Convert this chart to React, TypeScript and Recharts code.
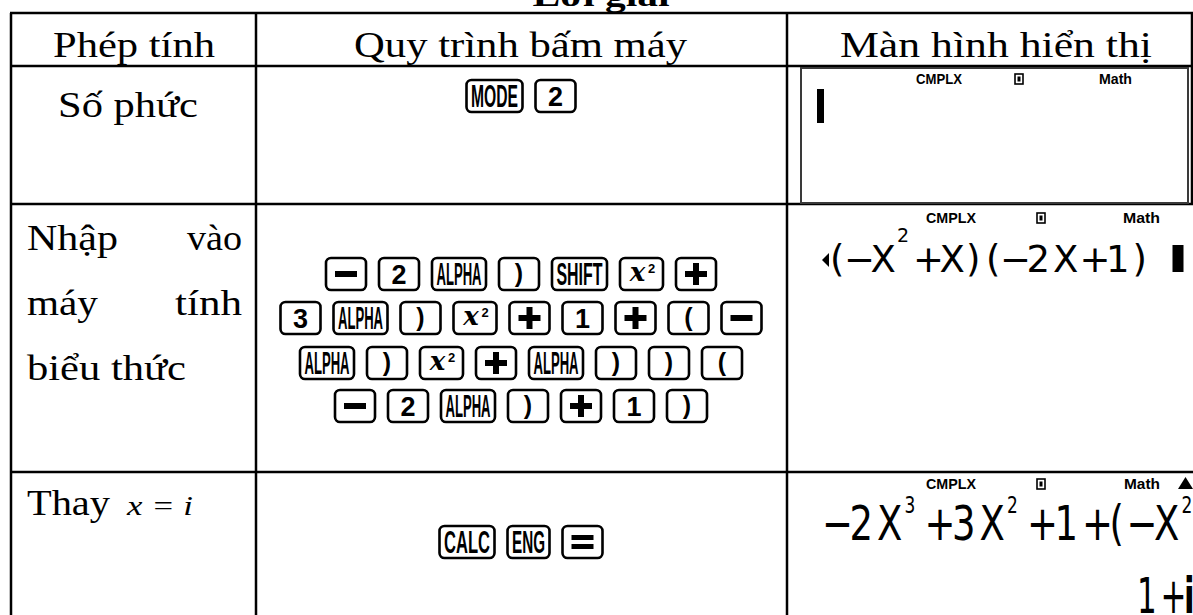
import React from "react";
import { ScatterChart, Scatter, XAxis, YAxis, Customized } from "recharts";

// ── content ──
const title = "Lời giải";
const headers = ["Phép tính", "Quy trình bấm máy", "Màn hình hiển thị"];
const firstLabel = "Số phức";
const secondLabelLines = [["Nhập", "vào"], ["máy", "tính"], ["biểu thức"]];
const thirdLabel = "Thay";
const thirdMath = "x = i";

const keysMode = ["MODE", "2"];
const keysInput = [
  ["−", "2", "ALPHA", ")", "SHIFT", "x²", "+"],
  ["3", "ALPHA", ")", "x²", "+", "1", "+", "(", "−"],
  ["ALPHA", ")", "x²", "+", "ALPHA", ")", ")", "("],
  ["−", "2", "ALPHA", ")", "+", "1", ")"],
];
const keysCalc = ["CALC", "ENG", "="];

const statusWords = ["CMPLX", "Math"];
const screenInput = ["◀", "(", "−", "X", "^2", "+", "X", ")", "(", "−", "2", "X", "+", "1", ")", " ", "▌"];
const screenCalcTop = ["−", "2", "X", "^3", "+", "3", "X", "^2", "+", "1", "+", "(", "−", "X", "^2", "+"];
const screenCalcResult = ["1", "+", "i"];

// ── layout ──
const W = 1193;
const H = 615;
const COLS = [11, 256, 787, 1192];
const ROWS = [13, 66, 204, 472];
const KEY_H = 32;
const KEY_GAP = 13;
const KEY_CX = 521;
const SERIF = "'Liberation Serif', 'Times New Roman', serif";
const SANS = "'Liberation Sans', Arial, sans-serif";
const CALC = "'DejaVu Sans', sans-serif";

function keyWidth(label: string) {
  switch (label) {
    case "MODE": return 56;
    case "ALPHA": return 54;
    case "SHIFT": return 55;
    case "CALC": return 55;
    case "ENG": return 42;
    case "x²": return 43;
    default: return 40;
  }
}

function buildRow(keys: string[], cy: number) {
  const widths = keys.map(keyWidth);
  const total = widths.reduce((a, b) => a + b, 0) + KEY_GAP * (keys.length - 1);
  let x = KEY_CX - total / 2;
  return keys.map((label, i) => {
    const cx = x + widths[i] / 2;
    x += widths[i] + KEY_GAP;
    return { x: cx, y: cy, label, w: widths[i] };
  });
}

const keyData = [
  ...buildRow(keysMode, 96),
  ...keysInput.flatMap((row, i) => buildRow(row, [274, 318, 363, 406][i])),
  ...buildRow(keysCalc, 542),
];

function KeyShape(props: any) {
  const { cx, cy, payload } = props;
  const { label, w } = payload;
  const x0 = cx - w / 2;
  const y0 = cy - KEY_H / 2;
  let inner: React.ReactNode = null;
  if (/^[A-Z]{3,}$/.test(label)) {
    inner = (
      <text x={cx} y={cy + 11} textAnchor="middle" fontFamily={SANS} fontWeight={700}
        fontSize={31} textLength={w - 9} lengthAdjust="spacingAndGlyphs">{label}</text>
    );
  } else if (/^[0-9]$/.test(label)) {
    inner = (
      <text x={cx} y={cy + 9.5} textAnchor="middle" fontFamily={SANS} fontWeight={700} fontSize={27}>{label}</text>
    );
  } else if (label === "−") {
    inner = <rect x={cx - 11} y={cy - 3} width={22} height={6} fill="#000" />;
  } else if (label === "+") {
    inner = (
      <g fill="#000">
        <rect x={cx - 11} y={cy - 3} width={22} height={6} />
        <rect x={cx - 3} y={cy - 11} width={6} height={22} />
      </g>
    );
  } else if (label === "=") {
    inner = (
      <g fill="#000">
        <rect x={cx - 11} y={cy - 7} width={22} height={5} />
        <rect x={cx - 11} y={cy + 2} width={22} height={5} />
      </g>
    );
  } else if (label === "x²") {
    inner = (
      <g>
        <text x={cx - 4} y={cy + 7} textAnchor="middle" fontFamily="'DejaVu Serif', serif"
          fontStyle="italic" fontWeight={700} fontSize={26}>x</text>
        <text x={cx + 10} y={cy - 1} textAnchor="middle" fontFamily={SANS} fontWeight={700} fontSize={13}>2</text>
      </g>
    );
  } else {
    inner = (
      <text x={cx} y={cy + 8} textAnchor="middle" fontFamily={SANS} fontWeight={700} fontSize={25}>{label}</text>
    );
  }
  return (
    <g>
      <rect x={x0} y={y0} width={w} height={KEY_H} rx={5} fill="#fff" stroke="#000" strokeWidth={2.6} />
      {inner}
    </g>
  );
}

function SerifText({ x, y, w, anchor = "start", size = 35, italic = false, bold = false, children }: any) {
  return (
    <text x={x} y={y} textAnchor={anchor} fontFamily={SERIF} fontSize={size}
      fontStyle={italic ? "italic" : "normal"} fontWeight={bold ? 700 : 400}
      textLength={w} lengthAdjust="spacingAndGlyphs" fill="#000">{children}</text>
  );
}

function Status({ x, base, cw, dx, mx, mw, tri }: any) {
  return (
    <g>
      <text x={x} y={base} fontFamily={SANS} fontWeight={700} fontSize={15}
        textLength={cw} lengthAdjust="spacingAndGlyphs">{statusWords[0]}</text>
      <rect x={dx} y={base - 10} width={8} height={10} fill="none" stroke="#000" strokeWidth={1.6} />
      <rect x={dx + 2.5} y={base - 7.5} width={3} height={5} fill="#000" />
      <text x={mx} y={base} fontFamily={SANS} fontWeight={700} fontSize={15}
        textLength={mw} lengthAdjust="spacingAndGlyphs">{statusWords[1]}</text>
      {tri && <polygon points={`${tri},${base} ${tri + 15},${base} ${tri + 7.5},${base - 12}`} fill="#000" />}
    </g>
  );
}

function CalcLine({ tokens, x0, base, sy = 1, font = 37, n, s, o, c, supFont, supRaise, boldLast = false }: any) {
  let x = x0;
  const out: React.ReactNode[] = [];
  tokens.forEach((t: string, i: number) => {
    const key = `${t}-${i}`;
    if (t === "◀") {
      out.push(<polygon key={key} points={`${x},-12 ${x + 7},-19 ${x + 7},-5`} fill="#000" />);
      x += 8;
    } else if (t === "▌") {
      out.push(<rect key={key} x={x} y={-27} width={11} height={27} fill="#000" />);
      x += 12;
    } else if (t === " ") {
      x += 20;
    } else if (t.startsWith("^")) {
      out.push(<text key={key} x={x} y={-supRaise} fontFamily={CALC} fontSize={supFont}>{t.slice(1)}</text>);
      x += s;
    } else if (t === "(") {
      out.push(<text key={key} x={x} y={0} fontFamily={CALC} fontSize={font}>{t}</text>);
      x += o;
    } else if (t === ")") {
      out.push(<text key={key} x={x} y={0} fontFamily={CALC} fontSize={font}>{t}</text>);
      x += c;
    } else {
      const bold = boldLast && i === tokens.length - 1;
      out.push(<text key={key} x={x} y={0} fontFamily={CALC} fontSize={font} fontWeight={bold ? 700 : 400}>{t}</text>);
      x += n;
    }
  });
  return <g transform={`translate(0 ${base}) scale(1 ${sy})`} fill="#000">{out}</g>;
}

function Table() {
  const line = { stroke: "#000", strokeWidth: 2.5 };
  return (
    <g>
      {/* title, cut by the top edge */}
      <SerifText x={601} y={6} w={137} anchor="middle" size={32} bold>{title}</SerifText>

      {/* grid */}
      {ROWS.map((y) => <line key={`h${y}`} x1={COLS[0] - 1} x2={W} y1={y} y2={y} {...line} />)}
      {COLS.slice(0, 3).map((x) => <line key={`v${x}`} x1={x} x2={x} y1={ROWS[0]} y2={H} {...line} />)}
      <line x1={COLS[3]} x2={COLS[3]} y1={ROWS[0]} y2={ROWS[2]} {...line} />

      {/* header */}
      <SerifText x={134} y={57} w={162} anchor="middle">{headers[0]}</SerifText>
      <SerifText x={520.5} y={57} w={333} anchor="middle">{headers[1]}</SerifText>
      <SerifText x={996} y={57} w={312} anchor="middle">{headers[2]}</SerifText>

      {/* first column */}
      <SerifText x={128} y={117} w={140} anchor="middle">{firstLabel}</SerifText>
      {secondLabelLines.map((words, i) => {
        const y = 250 + i * 65;
        if (words.length === 1) return <SerifText key={i} x={27} y={y} w={159}>{words[0]}</SerifText>;
        const widths = [[91, 55], [71, 67]][i];
        return (
          <g key={i}>
            <SerifText x={27} y={y} w={widths[0]}>{words[0]}</SerifText>
            <SerifText x={242} y={y} w={widths[1]} anchor="end">{words[1]}</SerifText>
          </g>
        );
      })}
      <SerifText x={27} y={515} w={83}>{thirdLabel}</SerifText>
      <SerifText x={127} y={515} w={66} size={27} italic>{thirdMath}</SerifText>

      {/* screen 1 */}
      <rect x={801} y={68} width={387} height={135} fill="#fff" stroke="#3a3a3a" strokeWidth={2} />
      <Status x={916} base={84} cw={46} dx={1015} mx={1099} mw={33} />
      <rect x={817} y={89} width={7} height={34} fill="#000" />

      {/* screen 2 */}
      <Status x={926} base={223} cw={50} dx={1037} mx={1123} mw={37} />
      <CalcLine tokens={screenInput} x0={822} base={272} n={26.5} s={16} o={14} c={20} supFont={19} supRaise={30} />

      {/* screen 3 */}
      <Status x={926} base={489} cw={50} dx={1037} mx={1124} mw={36} tri={1178} />
      <CalcLine tokens={screenCalcTop} x0={822} base={540} sy={1.3} n={27.5} s={20} o={17} c={20} supFont={17} supRaise={21} />
      <CalcLine tokens={screenCalcResult} x0={1137} base={613} sy={1.6} font={31} n={23.5} s={16} o={14} c={20} supFont={17} supRaise={21} boldLast />
    </g>
  );
}

export default function App() {
  return (
    <div style={{ position: "fixed", left: 0, top: 0, width: W, height: H, background: "#fff", overflow: "hidden" }}>
      <ScatterChart width={W} height={H} margin={{ top: 0, right: 0, bottom: 0, left: 0 }}>
        <XAxis type="number" dataKey="x" domain={[0, W]} hide allowDataOverflow />
        <YAxis type="number" dataKey="y" domain={[0, H]} reversed hide allowDataOverflow />
        <Customized component={<Table />} />
        <Scatter data={keyData} shape={KeyShape} isAnimationActive={false} />
      </ScatterChart>
    </div>
  );
}
